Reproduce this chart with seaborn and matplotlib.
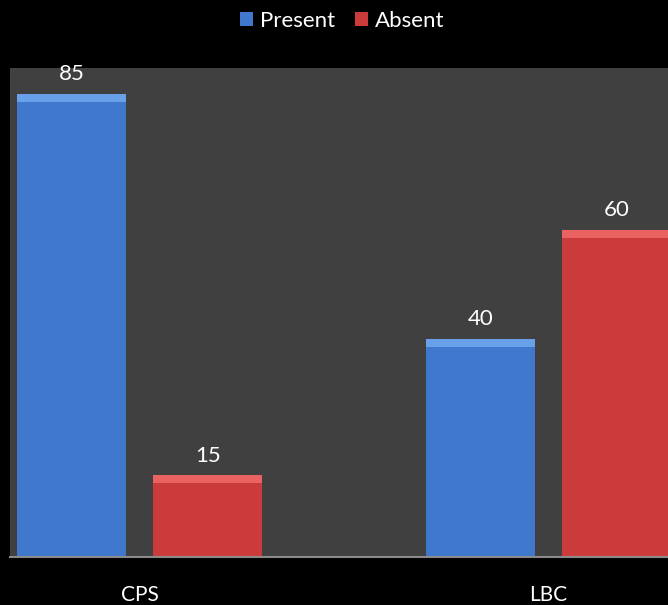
import pandas as pd
import matplotlib
matplotlib.use("Agg")
import matplotlib.pyplot as plt
import matplotlib.patches as mpatches
import seaborn as sns

# Chart data
categories = ["CPS", "LBC"]
series_names = ["Present", "Absent"]
present_values = [85, 40]
absent_values = [15, 60]

df = pd.DataFrame({
    "group": categories * 2,
    "status": [series_names[0]] * 2 + [series_names[1]] * 2,
    "value": present_values + absent_values,
})

sns.set_style("dark")
plt.rcParams["font.family"] = ["Lato", "DejaVu Sans"]

fig = plt.figure(figsize=(6.68, 6.05), dpi=100, facecolor="black")
ax = fig.add_axes([10 / 668, 48 / 605, 658 / 668, 489 / 605])
ax.set_facecolor("#404040")

palette = {"Present": "#3f78cc", "Absent": "#cc3b3b"}
highlight = {"Present": "#68a0ea", "Absent": "#ea6262"}
sns.barplot(data=df, x="group", y="value", hue="status", palette=palette,
            width=0.666, gap=0.2, saturation=1, ax=ax, edgecolor="none")

# Light bevel strip along the top of each bar
band = 8 * 89.7 / 489
for c, name in zip(ax.containers, series_names):
    for p in c.patches:
        x, w, h = p.get_x(), p.get_width(), p.get_height()
        ax.add_patch(mpatches.Rectangle((x, h - band), w, band,
                                        facecolor=highlight[name], edgecolor="none",
                                        zorder=p.get_zorder() + 0.1))

# Value labels above bars
for c in ax.containers:
    ax.bar_label(c, padding=7, color="white", fontsize=16)

ax.set_xlim(-0.318, 1.293)
ax.set_ylim(0, 89.7)
ax.set_xlabel("")
ax.set_ylabel("")
ax.set_yticks([])
ax.tick_params(axis="x", length=0, pad=20, labelcolor="white", labelsize=15)
for s in ["top", "left", "right"]:
    ax.spines[s].set_visible(False)
ax.spines["bottom"].set_color("#8a8a8a")
ax.spines["bottom"].set_linewidth(1.5)

leg = ax.legend(loc="upper center", bbox_to_anchor=(0.5 + 3 / 658, 1 + 66 / 489),
                ncol=2, frameon=False, fontsize=16, handlelength=0.6, handleheight=0.6,
                handletextpad=0.3, columnspacing=0.9, borderaxespad=0)
for t in leg.get_texts():
    t.set_color("white")

fig.savefig("out.png", dpi=100, facecolor="black")
